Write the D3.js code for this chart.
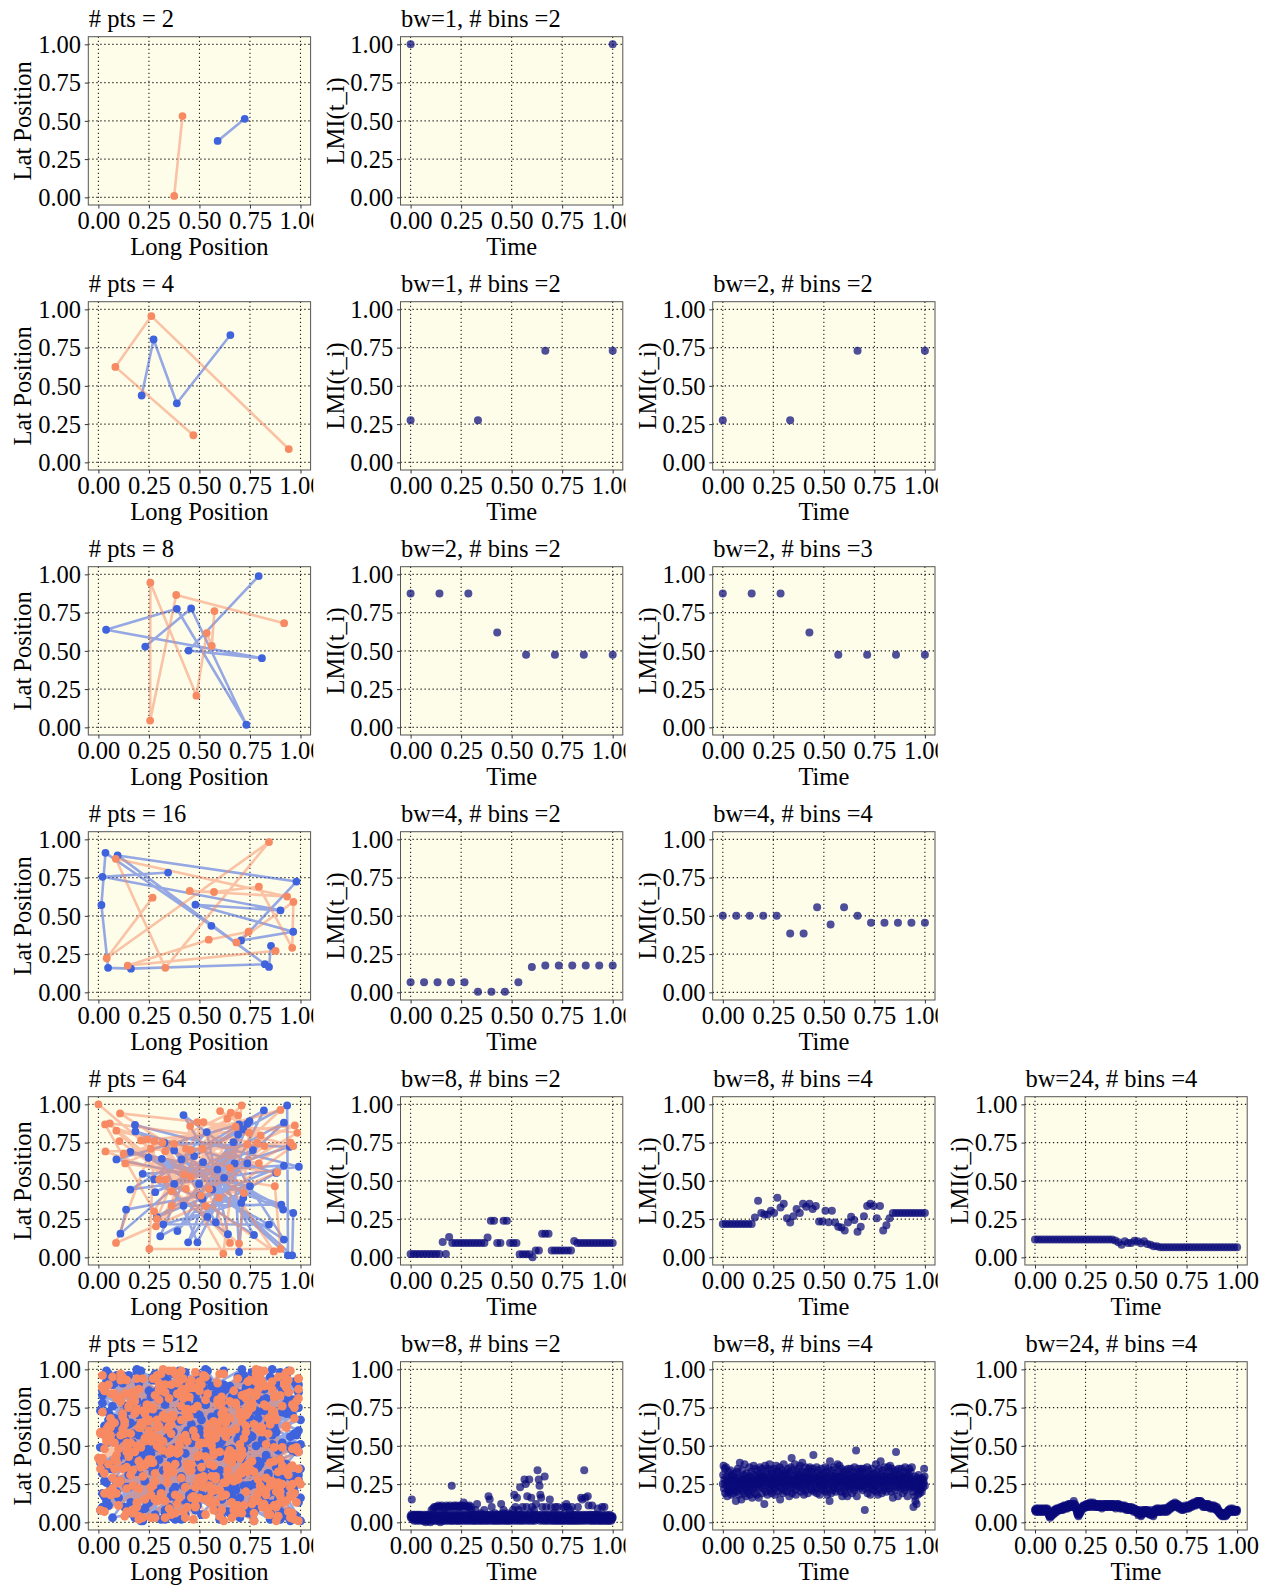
<!DOCTYPE html>
<html><head><meta charset="utf-8">
<script src="https://cdn.jsdelivr.net/npm/d3@7"></script>
<style>body{margin:0;background:#fff}</style>
</head><body>
<svg id="chart" width="1265" height="1585"></svg>
<script>
// ---------- data ----------
const tickValues=[0,0.25,0.5,0.75,1];
const tickLabels=["0.00","0.25","0.50","0.75","1.00"];
const ptsCounts=[2,4,8,16,64,512];
const lmiTitles=[
  ["bw=1, # bins =2"],
  ["bw=1, # bins =2","bw=2, # bins =2"],
  ["bw=2, # bins =2","bw=2, # bins =3"],
  ["bw=4, # bins =2","bw=4, # bins =4"],
  ["bw=8, # bins =2","bw=8, # bins =4","bw=24, # bins =4"],
  ["bw=8, # bins =2","bw=8, # bins =4","bw=24, # bins =4"]
];

const orange2=[[0.375,0.009],[0.416,0.531]];
const blue2=[[0.590,0.369],[0.724,0.513]];
const orange4=[[0.470,0.177],[0.084,0.624],[0.262,0.956],[0.942,0.087]];
const blue4=[[0.214,0.437],[0.273,0.803],[0.388,0.386],[0.653,0.832]];
const orange8=[[0.919,0.681],[0.385,0.865],[0.256,0.044],[0.257,0.945],[0.485,0.207],[0.536,0.616],[0.561,0.533],[0.574,0.760]];
const blue8=[[0.793,0.989],[0.446,0.502],[0.809,0.452],[0.038,0.638],[0.388,0.775],[0.732,0.017],[0.459,0.777],[0.232,0.528]];
const orange16=[[0.268,0.619],[0.041,0.223],[0.844,0.982],[0.331,0.160],[0.086,0.873],[0.934,0.626],[0.452,0.663],[0.572,0.656],[0.794,0.691],[0.959,0.291],[0.965,0.591],[0.683,0.326],[0.743,0.396],[0.546,0.344],[0.145,0.175],[0.877,0.271]];
const blue16=[[0.345,0.783],[0.020,0.755],[0.901,0.536],[0.480,0.573],[0.964,0.396],[0.706,0.339],[0.980,0.724],[0.095,0.895],[0.824,0.184],[0.161,0.155],[0.048,0.160],[0.015,0.571],[0.035,0.912],[0.559,0.435],[0.844,0.166],[0.854,0.304]];
const orange64=[[0.00,1.00],[0.26,0.71],[0.087,0.094],[0.885,0.557],[0.125,0.677],[0.901,0.963],[0.285,0.203],[0.638,0.906],[0.433,0.448],[0.104,0.760],[0.868,0.039],[0.454,0.858],[0.362,0.338],[0.984,0.814],[0.107,0.941],[0.72,0.421],[0.276,0.760],[0.252,0.055],[0.901,0.055],[0.873,0.465],[0.133,0.614],[0.655,0.945],[0.362,0.432],[0.786,0.749],[0.056,0.876],[0.531,0.334],[0.515,0.710],[0.951,0.749],[0.289,0.251],[0.433,0.710],[0.035,0.692],[0.548,0.448],[0.822,0.727],[0.331,0.694],[0.618,0.024],[0.709,0.993],[0.334,0.509],[0.089,0.828],[0.794,0.614],[0.243,0.771],[0.597,0.389],[0.964,0.727],[0.52,0.884],[0.276,0.301],[0.033,0.869],[0.65,0.585],[0.737,0.738],[0.301,0.509],[0.696,0.090],[0.745,0.814],[0.457,0.701],[0.651,0.094],[0.211,0.764],[0.972,0.862],[0.424,0.541],[0.317,0.749],[0.507,0.404],[0.691,0.928],[0.375,0.742],[0.457,0.526],[0.679,0.854],[0.49,0.884],[0.803,0.797],[0.602,0.956]];
const blue64=[[0.181,0.865],[0.992,0.592],[0.158,0.443],[0.819,0.961],[0.49,0.098],[0.314,0.644],[0.914,0.312],[0.518,0.622],[0.109,0.155],[0.137,0.312],[0.75,0.465],[0.089,0.640],[0.696,0.869],[0.581,0.229],[0.375,0.699],[0.959,0.013],[0.964,0.290],[0.183,0.823],[0.88,0.552],[0.306,0.138],[0.474,0.662],[0.934,0.993],[0.938,0.013],[0.326,0.749],[0.947,0.723],[0.375,0.480],[0.77,0.146],[0.421,0.930],[0.737,0.614],[0.289,0.264],[0.918,0.600],[0.219,0.546],[0.515,0.382],[0.918,0.880],[0.281,0.426],[0.765,0.701],[0.444,0.098],[0.589,0.574],[0.158,0.690],[0.905,0.345],[0.421,0.338],[0.737,0.873],[0.276,0.509],[0.641,0.151],[0.536,0.819],[0.411,0.640],[0.707,0.356],[0.321,0.216],[0.844,0.214],[0.248,0.651],[0.622,0.520],[0.391,0.172],[0.691,0.803],[0.539,0.264],[0.748,0.891],[0.503,0.404],[0.668,0.753],[0.564,0.443],[0.717,0.836],[0.498,0.480],[0.918,0.116],[0.674,0.614],[0.696,0.035],[0.717,0.389]];

// 512-point positions, in hundredths
const orangeX512=[12,87,45,3,66,29,91,54,38,72,7,60,25,83,49,16,95,33,70,2,58,81,22,44,99,11,67,36,5,78,53,27,
64,18,89,41,9,75,31,56,97,14,48,85,23,62,37,1,79,52,26,93,68,10,43,86,20,57,34,74,6,90,47,15,
82,39,61,8,73,28,50,94,19,65,42,88,13,55,31,77,4,69,24,98,46,59,17,84,35,71,0,63,27,92,40,58,
21,76,50,96,32,11,67,43,85,6,57,30,79,18,92,48,64,26,3,71,39,88,15,53,80,34,62,9,45,99,23,68,
37,94,14,59,81,27,46,2,73,61,19,90,35,52,8,77,42,66,29,96,12,55,84,21,70,47,33,87,5,63,16,92,
50,24,78,41,97,13,68,35,86,57,1,74,30,48,93,20,62,9,83,44,17,71,38,99,26,56,11,80,65,32,89,4,
45,72,18,61,36,91,7,54,28,85,67,14,43,96,22,59,79,33,2,70,48,88,15,64,25,52,93,40,10,76,58,31,
84,6,57,29,73,42,98,19,65,37,81,3,50,26,90,62,13,77,46,34,95,21,69,8,55,87,41,16,74,28,60,99,
11,49,83,24,66,5,92,38,71,17,58,44,87,30,2,75,53,20,97,63,36,82,9,47,68,14,89,27,61,40,78,23,
56,93,32,76,12,45,80,1,63,35,99,22,70,51,8,86,29,57,41,94,15,67,33,78,4,52,88,19,73,46,25,95,
39,64,7,85,28,53,17,91,44,69,23,96,36,11,79,58,3,48,72,30,87,13,60,42,98,20,65,34,81,6,54,27,
77,16,62,43,89,31,68,9,55,84,26,47,100,18,74,39,92,21,57,6,83,45,14,70,36,95,28,61,50,12,86,41,
24,88,51,3,69,35,81,46,15,97,60,27,73,40,9,64,32,85,19,53,77,1,48,90,25,66,38,82,13,56,94,30,
67,20,96,37,58,10,75,29,87,49,5,63,34,92,18,71,44,99,26,61,8,80,52,16,69,41,91,22,78,35,3,59,
14,53,79,25,42,99,6,66,31,83,47,19,90,56,28,74,11,60,37,86,23,95,43,70,2,51,84,30,65,17,76,48,
93,33,8,71,55,22,87,40,63,12,78,50,24,97,45,1,68,36,82,57,27,14,89,61,7,73,39,96,20,44,85,99];
const orangeY512=[71,25,90,48,13,62,37,84,6,55,29,97,41,18,76,52,3,68,33,88,21,59,94,10,46,79,27,64,38,85,15,57,
30,82,4,67,44,93,19,58,75,36,11,89,53,26,70,8,61,96,39,14,78,48,23,87,2,66,31,92,57,17,74,43,
99,12,60,35,81,27,51,7,73,45,94,20,64,38,86,1,55,29,77,49,16,91,34,68,9,83,42,58,24,96,50,13,
65,40,86,18,53,97,28,72,5,62,37,80,14,46,91,23,69,3,57,32,84,11,75,43,98,26,60,19,88,35,71,6,
47,93,22,78,10,56,34,89,63,17,74,41,99,28,52,6,81,44,67,25,95,13,58,36,72,2,85,49,20,65,31,90,
16,54,83,29,68,4,77,45,92,21,59,33,87,10,63,40,97,27,51,74,8,66,38,94,18,55,80,24,47,100,12,61,
82,36,9,71,48,25,95,60,15,39,86,52,3,77,30,64,19,90,42,70,56,1,84,34,67,23,98,46,11,75,28,53,
5,68,44,96,20,87,13,50,79,33,62,7,92,41,24,73,58,15,88,37,99,49,28,65,16,82,54,31,72,3,46,94,
57,27,76,39,3,63,91,18,44,85,30,70,11,55,96,35,80,22,48,66,5,89,40,17,61,93,26,74,8,51,83,37,
20,88,47,12,69,34,99,58,26,81,1,64,42,90,19,73,50,8,86,31,76,45,14,97,53,29,67,10,84,38,60,23,
91,41,65,24,83,52,6,76,37,94,15,48,70,27,87,59,32,98,11,63,40,84,21,55,79,4,68,35,92,18,57,75,
33,78,1,57,95,17,43,81,64,9,53,88,25,71,38,96,13,62,46,84,29,69,7,51,90,36,15,78,44,61,26,99,
74,10,52,86,31,68,22,93,47,2,77,39,59,16,82,45,70,27,94,5,64,35,88,20,57,42,97,12,66,30,85,49,
8,62,37,99,55,26,85,14,71,43,90,18,61,34,79,6,53,87,23,67,41,96,30,58,11,76,49,3,92,63,19,80,
46,95,28,66,7,81,54,39,97,21,60,13,83,50,32,75,93,4,69,27,55,17,86,44,72,36,9,91,59,24,78,15,
62,3,84,47,24,73,11,92,56,35,100,29,67,19,89,40,8,58,77,13,94,51,33,82,22,70,45,6,87,38,64,27];
const blueX512=[88,14,52,77,31,96,6,63,40,19,84,57,25,71,3,92,46,68,12,99,35,80,58,22,75,9,61,43,86,28,50,17,
73,38,95,1,55,27,82,66,10,48,90,34,62,15,79,44,98,20,70,53,5,87,37,60,24,93,13,76,41,67,30,100,
2,59,36,81,21,69,97,45,11,74,53,26,89,7,64,32,94,18,57,83,29,48,72,4,91,39,65,16,78,51,23,85,
42,99,27,60,8,76,49,13,87,35,67,98,22,54,81,3,71,40,15,93,62,30,85,46,18,77,10,56,96,33,69,1,
94,20,71,37,63,5,89,52,28,80,16,45,99,61,34,8,75,24,58,91,43,66,12,83,50,26,97,39,72,6,55,87,
30,65,11,92,47,78,23,59,100,36,70,4,84,41,17,95,53,27,68,9,86,32,77,14,60,44,93,21,74,49,2,81,
58,7,83,44,19,68,35,96,51,13,76,28,91,62,39,5,86,47,73,21,99,55,33,80,6,65,42,15,97,38,70,24,
16,79,48,3,90,26,61,84,33,55,98,42,9,72,20,64,37,100,14,88,50,23,69,41,95,11,57,82,29,76,45,8,
67,33,97,56,12,85,40,70,2,48,25,93,66,31,78,18,54,89,7,63,36,81,52,19,74,98,27,61,4,47,90,35,
9,52,26,74,99,38,14,63,87,21,57,80,44,3,95,68,29,11,76,50,97,17,40,65,34,88,55,1,82,23,62,92,
81,43,68,18,57,94,31,7,75,46,89,12,60,36,100,24,83,58,41,2,70,27,93,49,15,79,37,64,9,86,53,20,
47,96,15,83,34,61,88,53,23,95,39,66,5,78,51,13,92,71,30,58,85,8,45,97,62,19,74,33,90,56,12,77,
26,70,90,40,5,49,73,28,64,98,11,84,37,57,19,86,46,2,67,25,91,54,79,36,1,71,48,99,22,60,83,14,
97,10,54,65,29,18,93,42,80,6,72,33,96,24,59,40,13,77,89,44,20,62,16,87,53,31,6,68,35,94,76,43,
35,84,3,50,91,72,24,15,99,61,43,20,79,8,68,32,97,55,26,84,4,37,73,58,93,11,64,90,45,17,100,62,
75,27,60,33,86,13,66,98,4,79,30,95,52,85,10,39,91,15,48,2,72,99,60,28,84,44,18,53,96,7,35,99];
const blueY512=[36,93,58,14,81,47,22,70,99,5,64,30,86,43,17,75,52,9,91,28,66,38,84,1,57,20,79,45,12,97,61,33,
88,2,49,73,26,95,60,18,42,83,7,55,99,31,68,13,90,46,3,77,35,62,21,85,48,96,10,56,29,80,41,67,
19,71,40,92,8,54,30,87,63,24,100,45,11,76,57,34,82,3,67,44,15,93,58,26,72,38,89,6,50,18,78,95,
53,25,83,43,68,12,97,35,61,90,21,4,74,49,27,86,59,14,96,38,76,51,9,64,33,88,16,47,70,2,84,39,
7,64,32,97,47,72,15,56,23,80,41,92,60,3,83,28,69,37,8,52,98,19,71,42,88,55,24,13,66,94,46,20,
80,44,96,22,59,35,9,84,51,68,16,99,32,75,58,1,45,93,21,66,40,87,11,57,29,73,4,95,63,34,86,52,
28,90,13,60,100,26,47,77,5,94,56,37,18,88,42,67,10,74,53,99,31,82,45,17,69,6,91,36,58,23,79,50,
65,11,71,38,2,85,53,29,97,18,46,79,63,24,91,7,82,35,57,12,70,43,95,30,4,66,20,87,49,98,15,61,
43,77,20,89,55,7,68,94,32,60,13,86,48,2,73,40,99,26,63,87,17,54,35,79,9,46,71,28,92,57,4,82,
96,34,58,6,75,49,23,65,89,1,81,39,70,27,50,14,85,61,33,96,5,76,47,22,93,59,37,8,73,45,86,16,
12,58,85,47,20,99,66,39,7,74,30,95,51,84,16,62,25,89,2,78,57,33,97,11,64,40,82,23,53,100,31,70,
72,3,38,81,63,15,91,50,27,56,88,21,97,9,67,44,74,31,85,48,2,61,36,92,18,79,54,6,41,69,96,25,
49,84,27,66,11,79,38,5,58,92,45,68,3,34,98,57,19,83,41,14,87,26,72,60,49,100,8,90,37,64,21,76,
4,55,93,17,86,42,71,24,99,35,62,8,80,53,29,96,68,1,47,77,33,90,13,65,84,22,58,44,10,75,38,93,
86,19,63,40,28,96,12,73,46,83,5,57,36,91,22,69,50,15,82,31,97,59,7,44,78,27,66,98,18,52,1,87,
24,69,2,94,51,36,82,57,14,99,71,30,88,6,60,42,95,23,76,10,48,85,34,18,63,91,45,77,29,3,56,13];

// LMI series
const lmi2_bw1b2=[1.00,1.00];
const lmi4_bw1b2=[0.275,0.275,0.73,0.73];
const lmi4_bw2b2=[0.275,0.275,0.73,0.73];
const lmi8_bw2b2=[0.875,0.875,0.875,0.62,0.475,0.475,0.475,0.475];
const lmi8_bw2b3=[0.875,0.875,0.875,0.62,0.475,0.475,0.475,0.475];
const lmi16_bw4b2=[0.066,0.066,0.066,0.066,0.066,0.004,0.004,0.004,0.066,0.166,0.175,0.175,0.175,0.175,0.175,0.175];
const lmi16_bw4b4=[0.50,0.50,0.50,0.50,0.50,0.385,0.385,0.557,0.444,0.557,0.50,0.455,0.455,0.455,0.455,0.455];
const lmi64_bw8b2=[0.022,0.022,0.022,0.022,0.022,0.022,0.022,0.022,0.022,0.022,0.10,0.022,0.133,
0.094,0.094,0.094,0.094,0.094,0.094,0.094,0.094,0.094,0.094,0.094,0.13,0.24,0.24,0.094,0.094,0.24,0.24,
0.094,0.094,0.094,0.02,0.02,0.02,0.02,0.0,0.045,0.045,0.155,0.155,0.155,
0.044,0.044,0.044,0.044,0.044,0.044,0.044,0.107,
0.094,0.094,0.094,0.094,0.094,0.094,0.094,0.094,0.094,0.094,0.094,0.094];
const lmi64_bw8b4=[0.218,0.218,0.218,0.218,0.218,0.218,0.218,0.218,0.218,0.218,
0.26,0.37,0.29,0.28,0.28,0.305,0.29,0.39,0.325,0.35,0.255,0.227,0.268,0.316,0.29,0.35,0.33,0.35,0.316,0.336,
0.235,0.235,0.305,0.23,0.305,0.227,0.20,0.195,0.175,0.227,0.266,0.244,0.168,0.20,0.268,0.336,0.35,0.336,
0.255,0.336,0.175,0.21,0.255,0.29,0.29,0.29,0.29,0.29,0.29,0.29,0.29,0.29,0.29,0.29];
const lmi64_bw24b4=[0.116,0.116,0.116,0.116,0.116,0.116,0.116,0.116,0.116,0.116,0.116,0.116,0.116,0.116,0.116,
0.116,0.116,0.116,0.116,0.116,0.116,0.116,0.116,0.116,0.116,
0.11,0.098,0.083,0.105,0.094,0.094,0.109,0.105,0.092,0.105,0.088,0.083,0.072,0.072,
0.066,0.066,0.066,0.066,0.066,0.066,0.066,0.066,0.066,0.066,0.066,0.066,0.066,0.066,0.066,0.066,
0.066,0.066,0.066,0.066,0.066,0.066,0.066,0.066,0.066];
// 512-point LMI series, in hundredths
const lmi512_bw8b2=[4,3,5,15,4,2,3,5,4,1,3,4,5,2,3,4,1,5,3,2,4,3,5,1,4,2,3,5,4,3,1,4,
2,4,1,3,5,2,0,4,3,1,5,2,4,3,1,2,5,4,0,3,2,8,4,1,3,9,2,5,10,1,4,3,
10,5,1,10,4,2,11,5,1,10,4,0,10,5,2,11,4,1,10,5,1,9,4,2,10,5,1,11,4,2,10,5,
1,10,4,2,11,5,1,10,24,4,1,10,5,2,11,4,1,10,5,2,11,4,1,10,5,1,10,4,2,11,5,1,
10,4,2,11,5,1,13,4,10,2,5,1,11,4,2,10,5,1,10,4,2,11,5,1,10,4,8,2,5,1,4,2,
5,1,4,2,8,5,1,3,12,4,2,5,1,3,4,2,5,1,6,3,2,4,1,5,3,2,8,4,1,3,5,2,
4,1,3,5,2,17,4,1,15,3,5,2,4,10,1,3,5,2,4,1,3,6,2,4,1,5,3,2,4,1,5,3,
2,4,1,5,3,12,2,4,1,6,3,8,2,5,1,4,3,2,5,1,4,6,2,3,1,5,4,2,3,1,5,4,
2,5,3,8,1,4,18,2,5,10,3,1,4,16,2,5,3,8,1,4,2,23,5,3,1,4,2,10,5,3,1,4,
28,5,2,25,4,10,1,17,3,5,2,4,28,1,6,3,2,16,4,10,1,3,5,2,8,4,1,3,5,12,2,4,
3,34,5,2,28,4,24,1,18,3,16,5,2,10,4,1,3,5,2,30,4,1,3,10,5,2,4,1,3,5,2,4,
15,3,1,10,4,2,5,3,1,4,2,6,3,1,10,5,2,4,1,3,10,2,4,1,5,3,2,4,1,5,3,2,
4,1,10,3,2,5,1,10,4,2,12,3,1,10,5,2,4,1,3,8,2,4,1,5,10,2,3,1,4,5,2,3,
1,4,3,2,5,1,4,10,2,3,1,5,4,2,3,16,1,4,15,2,5,3,1,34,4,2,16,3,5,1,4,2,
17,3,11,2,5,1,4,3,2,5,1,11,4,2,3,1,5,4,2,3,1,5,4,2,3,9,1,4,2,5,3,1,
4,2,3,1,10,5,2,4,1,3,10,2,4,1,3,5,2,4,1,3,2,4,1,3,5,2,4,1,3,2,4,3];
const lmi512_bw8b4=[25,31,37,22,28,35,19,26,36,24,30,17,27,21,33,20,25,29,20,34,23,28,18,31,26,22,30,19,27,32,24,21,
28,14,24,33,20,27,35,23,29,18,26,39,22,30,25,15,28,34,21,27,24,31,19,38,26,22,29,17,32,25,28,23,
20,30,26,36,18,24,29,21,33,27,16,25,31,22,37,28,24,19,35,26,30,23,18,27,34,25,29,16,31,23,36,28,
24,32,27,19,35,30,26,22,30,12,28,37,24,20,33,27,31,18,26,35,29,23,38,25,21,30,27,34,19,28,24,32,
29,22,35,27,18,31,25,37,23,29,33,26,20,33,28,24,36,15,30,27,22,34,26,31,19,29,38,25,21,32,27,24,
33,26,20,31,28,35,24,29,17,32,27,22,36,25,42,19,28,34,23,27,31,26,38,21,29,18,33,25,28,30,24,35,
27,23,31,37,25,29,20,33,26,39,22,28,32,18,27,30,24,36,21,29,33,25,27,19,31,35,24,28,36,26,30,22,
29,33,21,27,35,44,30,20,26,32,22,28,25,36,19,29,27,34,23,30,26,18,31,28,24,35,22,27,32,25,29,21,
27,31,24,36,20,28,33,26,18,30,25,35,22,29,14,40,24,31,19,28,34,26,21,30,27,36,23,29,25,32,20,28,
30,25,38,28,22,33,27,37,24,30,20,29,35,26,17,31,27,24,33,21,29,26,19,34,28,23,31,17,27,35,24,29,
26,31,22,28,35,24,30,19,27,33,25,29,21,36,26,30,23,47,32,17,27,24,31,35,22,29,26,33,28,24,35,24,
29,33,21,27,35,24,30,8,26,32,22,28,25,36,19,29,27,34,23,30,26,18,31,28,24,35,22,27,32,25,29,21,
27,31,24,38,20,28,33,26,18,30,25,35,22,29,27,40,24,31,19,28,34,26,21,30,27,36,23,29,25,32,20,28,
30,25,36,28,22,33,27,37,24,30,20,29,35,26,16,31,27,24,33,21,29,26,46,34,28,23,31,17,27,35,24,29,
26,31,22,28,35,24,30,19,27,33,25,29,21,36,26,30,23,28,32,17,27,24,31,35,22,29,26,33,28,24,36,24,
25,20,10,28,23,17,30,14,26,22,12,29,24,18,27,31,21,26,19,28,24,22,27,20,29,25,23,28,26,35,30,24];
const lmi512_bw24b4=[8,8,7,9,8,7,8,9,8,7,8,8,9,7,8,8,7,9,8,8,7,8,9,8,7,8,8,9,8,7,8,9,
8,7,6,5,4,5,3,4,5,4,6,5,7,6,5,7,8,7,6,8,7,8,9,8,7,9,8,8,9,8,9,8,
9,10,8,9,10,9,8,10,9,11,10,9,10,11,9,10,11,10,9,11,10,12,11,10,11,12,10,11,12,11,10,11,
11,12,14,11,10,12,11,9,10,8,7,6,5,6,4,5,6,7,6,8,7,8,9,10,9,10,11,10,9,11,10,11,
10,11,12,11,10,12,11,12,10,11,12,13,11,12,11,10,12,11,12,13,12,11,10,12,11,12,11,10,11,12,11,10,
11,10,12,11,10,11,12,10,11,9,10,11,10,12,11,10,11,12,11,10,12,11,10,11,12,11,10,11,12,11,10,11,
12,11,10,11,12,11,10,12,11,10,11,10,9,11,10,12,11,10,11,12,10,11,10,9,11,10,11,10,9,10,11,10,
10,9,10,11,9,10,9,8,10,9,10,9,8,9,10,9,8,9,8,9,10,9,8,9,8,7,9,8,9,8,7,8,
8,7,8,6,7,5,6,7,8,7,6,5,4,6,5,7,6,7,8,7,6,8,7,6,7,8,7,6,7,8,7,6,
7,6,5,7,6,5,6,7,8,6,5,4,6,7,6,7,8,7,8,9,8,7,8,9,8,7,8,7,9,8,7,8,
8,7,8,9,8,9,8,7,9,8,7,8,9,8,7,8,9,10,9,8,9,10,11,10,9,10,11,12,11,10,11,12,
12,11,13,12,11,12,10,11,12,11,10,11,9,10,11,10,9,10,9,8,9,10,9,8,9,10,9,10,11,10,9,10,
10,9,10,11,10,9,10,11,10,11,12,11,10,11,12,11,12,13,12,11,12,13,12,11,12,13,14,12,13,14,12,13,
14,13,12,14,13,12,13,11,12,10,11,12,11,10,11,12,11,10,11,12,11,10,12,11,10,11,10,9,10,11,10,9,
10,11,10,9,10,11,10,9,10,9,8,9,10,9,8,7,8,7,6,7,6,5,6,5,6,4,5,6,5,4,6,5,
5,6,4,5,6,5,7,6,7,8,7,8,7,8,9,8,7,8,7,8,9,8,7,8,7,8,8,7,8,8,7,8];

// ---------- assemble ----------
const zip=(xs,ys)=>xs.slice(0,Math.min(xs.length,ys.length)).map((v,i)=>[v/100,ys[i]/100]);
const hund=a=>a.map(v=>v/100);
const scatterOrange=[orange2,orange4,orange8,orange16,orange64,zip(orangeX512,orangeY512)];
const scatterBlue=[blue2,blue4,blue8,blue16,blue64,zip(blueX512,blueY512)];
const lmiSeries=[
  [lmi2_bw1b2],
  [lmi4_bw1b2,lmi4_bw2b2],
  [lmi8_bw2b2,lmi8_bw2b3],
  [lmi16_bw4b2,lmi16_bw4b4],
  [lmi64_bw8b2,lmi64_bw8b4,lmi64_bw24b4],
  [hund(lmi512_bw8b2),hund(lmi512_bw8b4),hund(lmi512_bw24b4)]
];

// ---------- drawing ----------
const FONT='"Liberation Serif","Times New Roman",Times,serif';
const FS=24.5;
const PW=222.3, PH=168.3;
const colLeft=[88.3,400.5,712.7,1024.9];
const rowTop=r=>36.7+265*r;
const svg=d3.select("#chart");
const defs=svg.append("defs");
const ORANGE="#f78a62", BLUE="#3f63dd", NAVY="#0a0a7a";

function makePanel(r,c,title,xlabel,ylabel,draw){
  const outer=svg.append("g").attr("transform",`translate(${colLeft[c]},${rowTop(r)})`);
  const g=outer.append("g");
  if(c<3){
    const id=`clip_${r}_${c}`;
    defs.append("clipPath").attr("id",id).append("rect")
      .attr("x",-100).attr("y",-45).attr("width",100+PW+2.7).attr("height",PH+110);
    g.attr("clip-path",`url(#${id})`);
  }
  const x=d3.scaleLinear().domain([-0.05,1.05]).range([0,PW]);
  const y=d3.scaleLinear().domain([-0.05,1.05]).range([PH,0]);
  g.append("rect").attr("width",PW).attr("height",PH).attr("fill","#fdfdea");
  const grid=g.append("g").attr("stroke","#222").attr("stroke-width",1.1).attr("stroke-dasharray","1.3,2.7");
  grid.selectAll(".gv").data(tickValues).join("line").attr("x1",d=>x(d)).attr("x2",d=>x(d)).attr("y1",0).attr("y2",PH);
  grid.selectAll(".gh").data(tickValues).join("line").attr("y1",d=>y(d)).attr("y2",d=>y(d)).attr("x1",0).attr("x2",PW);
  draw(g,x,y);
  g.append("rect").attr("width",PW).attr("height",PH).attr("fill","none").attr("stroke","#555").attr("stroke-width",1);
  const xa=d3.axisBottom(x).tickValues(tickValues).tickFormat((d,i)=>tickLabels[i]).tickSizeInner(3.5).tickSizeOuter(0).tickPadding(3.5);
  const gx=g.append("g").attr("transform",`translate(0,${PH})`).call(xa);
  const ya=d3.axisLeft(y).tickValues(tickValues).tickFormat((d,i)=>tickLabels[i]).tickSizeInner(3.5).tickSizeOuter(0).tickPadding(3.8);
  const gy=g.append("g").call(ya);
  [gx,gy].forEach(a=>{
    a.select(".domain").remove();
    a.selectAll("line").attr("stroke","#333");
    a.selectAll("text").attr("font-family",FONT).attr("font-size",FS).attr("fill","#000");
  });
  gx.selectAll("text").attr("dy","0.68em");
  gy.selectAll("text").attr("dy","0.34em");
  g.append("text").attr("x",0.5).attr("y",-10).attr("font-family",FONT).attr("font-size",FS).text(title);
  g.append("text").attr("x",PW/2).attr("y",PH+50).attr("text-anchor","middle").attr("font-family",FONT).attr("font-size",FS).text(xlabel);
  g.append("text").attr("transform",`translate(-57,${PH/2}) rotate(-90)`).attr("text-anchor","middle").attr("font-family",FONT).attr("font-size",FS).text(ylabel);
}

ptsCounts.forEach((n,r)=>{
  const rad = n>=512 ? 4.4 : 3.9;
  makePanel(r,0,`# pts = ${n}`,"Long Position","Lat Position",(g,x,y)=>{
    const line=d3.line().x(d=>x(d[0])).y(d=>y(d[1]));
    const series=[[scatterBlue[r],BLUE,0.55],[scatterOrange[r],ORANGE,0.5]];
    series.forEach(([pts,col,op])=>{
      g.append("path").attr("d",line(pts)).attr("fill","none").attr("stroke",col).attr("stroke-opacity",op).attr("stroke-width",2.6).attr("stroke-linejoin","round");
    });
    series.forEach(([pts,col])=>{
      g.append("g").selectAll("circle").data(pts).join("circle")
        .attr("cx",d=>x(d[0])).attr("cy",d=>y(d[1])).attr("r",rad).attr("fill",col);
    });
  });
  lmiSeries[r].forEach((vals,k)=>{
    makePanel(r,k+1,lmiTitles[r][k],"Time","LMI(t_i)",(g,x,y)=>{
      const m=vals.length;
      g.append("g").selectAll("circle").data(vals).join("circle")
        .attr("cx",(d,i)=>x(m>1?i/(m-1):0)).attr("cy",d=>y(d)).attr("r",4)
        .attr("fill",NAVY).attr("fill-opacity",0.72);
    });
  });
});
</script>
</body></html>
